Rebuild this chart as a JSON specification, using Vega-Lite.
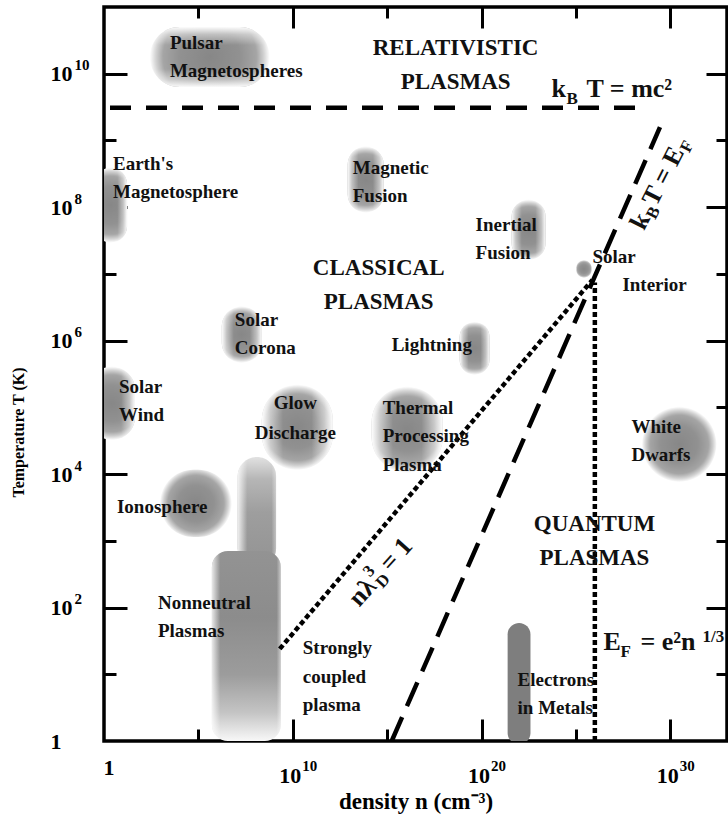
{
  "$schema": "https://vega.github.io/schema/vega-lite/v6.json",
  "width": 623,
  "height": 734,
  "autosize": {"type": "none"},
  "padding": {"left": 104, "top": 7, "right": 1, "bottom": 81},
  "background": "white",
  "config": {
    "view": {"stroke": "#000", "strokeWidth": 3.5},
    "font": "Liberation Serif"
  },
  "datasets": {
    "blobs": [
      {"name": "Pulsar Magnetospheres", "n1": 269, "n2": 6.0e8, "T1": 6.3e9, "T2": 5.0e10},
      {"name": "Earth's Magnetosphere", "n1": 0.32, "n2": 16.6, "T1": 2.95e7, "T2": 3.9e8},
      {"name": "Magnetic Fusion", "n1": 8.1e12, "n2": 6.5e14, "T1": 8.3e7, "T2": 8.1e8},
      {"name": "Inertial Fusion", "n1": 3.9e21, "n2": 2.45e23, "T1": 1.62e7, "T2": 1.29e8},
      {"name": "Solar Interior", "n1": 1.07e25, "n2": 6.6e25, "T1": 8.7e6, "T2": 1.62e7},
      {"name": "Solar Corona", "n1": 1.74e6, "n2": 2.29e8, "T1": 4.68e5, "T2": 3.24e6},
      {"name": "Lightning", "n1": 6.9e18, "n2": 2.63e20, "T1": 3.09e5, "T2": 1.91e6},
      {"name": "Solar Wind", "n1": 0.158, "n2": 43.7, "T1": 3.24e4, "T2": 4.07e5},
      {"name": "Glow Discharge", "n1": 2.29e8, "n2": 1.32e12, "T1": 1.15e4, "T2": 2.19e5},
      {"name": "Thermal Processing Plasma", "n1": 1.51e14, "n2": 8.7e17, "T1": 1.05e4, "T2": 2.04e5},
      {"name": "White Dwarfs", "n1": 3.3e28, "n2": 2.7e32, "T1": 7.6e3, "T2": 1.02e5},
      {"name": "Ionosphere", "n1": 912, "n2": 5.9e6, "T1": 1.14e3, "T2": 1.16e4}
    ],
    "nonneutralTop": [
      {"name": "Nonneutral Plasmas (upper)", "n1": 1.2e7, "n2": 1.3e9, "T1": 400, "T2": 1.81e4}
    ],
    "nonneutralBody": [
      {"name": "Nonneutral Plasmas", "n1": 5.2e5, "n2": 2.32e9, "T1": 1, "T2": 706}
    ],
    "metals": [
      {"name": "Electrons in Metals", "n1": 2.4e21, "n2": 3.89e22, "T1": 0.89, "T2": 58.9}
    ],
    "mc2": [
      {"n": 1, "T": 3.09e9},
      {"n": 6.31e28, "T": 3.09e9}
    ],
    "kTEF": [
      {"n": 1.74e15, "T": 1},
      {"n": 2.82e29, "T": 1.58e9}
    ],
    "dotted": [
      {"id": "nlambda", "n": 2.04e9, "T": 24.0},
      {"id": "nlambda", "n": 7.41e25, "T": 8.13e6},
      {"id": "EF", "n": 1e26, "T": 1},
      {"id": "EF", "n": 1e26, "T": 7.41e6}
    ],
    "labels": [
      {"label": "Pulsar\nMagnetospheres", "n": 3.1e3, "T": 2.37e10},
      {"label": "Earth's\nMagnetosphere", "n": 3.0, "T": 3.64e8},
      {"label": "Magnetic\nFusion", "n": 1.5e13, "T": 3.17e8},
      {"label": "Inertial\nFusion", "n": 4.82e19, "T": 4.43e7},
      {"label": "Solar", "n": 7.46e25, "T": 1.47e7},
      {"label": "Interior", "n": 2.88e27, "T": 5.58e6},
      {"label": "Solar\nCorona", "n": 8.53e6, "T": 1.67e6},
      {"label": "Lightning", "n": 1.73e15, "T": 7.03e5},
      {"label": "Solar\nWind", "n": 6.22, "T": 1.65e5},
      {"label": "Thermal\nProcessing\nPlasma", "n": 5.78e14, "T": 8.0e4},
      {"label": "White\nDwarfs", "n": 8.65e27, "T": 4.15e4},
      {"label": "Ionosphere", "n": 4.87, "T": 2.62e3},
      {"label": "Nonneutral\nPlasmas", "n": 719, "T": 95.3},
      {"label": "Strongly\ncoupled\nplasma", "n": 3.38e10, "T": 20.1},
      {"label": "Electrons\nin Metals", "n": 8.04e21, "T": 6.68}
    ],
    "centered": [
      {"label": "Glow\nDischarge", "n": 1.36e10, "T": 9.5e4}
    ],
    "regions": [
      {"label": "RELATIVISTIC\nPLASMAS", "n": 4.21e18, "T": 1.93e10},
      {"label": "CLASSICAL\nPLASMAS", "n": 3.55e14, "T": 9.7e6},
      {"label": "QUANTUM\nPLASMAS", "n": 9.53e25, "T": 1.41e3}
    ],
    "eqMain": [
      {"label": "k", "n": 5.06e23, "T": 4.52e9},
      {"label": "T = mc²", "n": 3.6e25, "T": 4.52e9},
      {"label": "E", "n": 2.85e26, "T": 23.1},
      {"label": "= e²n", "n": 2.59e28, "T": 23.1}
    ],
    "eqSmall": [
      {"label": "B", "n": 3.14e24, "T": 3.55e9},
      {"label": "F", "n": 2.26e27, "T": 18.2},
      {"label": "1/3", "n": 5.0e31, "T": 30.5}
    ],
    "rotA": [
      {"label": "k", "n": 4.06e28, "T": 4.34e7},
      {"label": "T = E", "n": 1.81e29, "T": 9.95e7}
    ],
    "rotASmall": [
      {"label": "B", "n": 1.6e29, "T": 6.36e7},
      {"label": "F", "n": 1.01e31, "T": 6.38e8}
    ],
    "rotB": [
      {"label": "nλ", "n": 3.34e13, "T": 99.6},
      {"label": "= 1", "n": 1.53e15, "T": 333}
    ],
    "rotBSmall": [
      {"label": "D", "n": 5.85e14, "T": 189},
      {"label": "3", "n": 1.24e14, "T": 280}
    ]
  },
  "resolve": {"axis": {"x": "independent", "y": "independent"}},
  "layer": [
    {
      "data": {"name": "blobs"},
      "mark": {
        "type": "rect", "clip": true, "cornerRadius": 999,
        "color": {"gradient": "radial", "x1": 0.5, "y1": 0.5, "x2": 0.5, "y2": 0.5, "r1": 0, "r2": 0.5,
          "stops": [
            {"offset": 0, "color": "#878787"},
            {"offset": 0.5, "color": "#919191"},
            {"offset": 0.78, "color": "#a5a5a5"},
            {"offset": 0.9, "color": "#d2d2d2"},
            {"offset": 1, "color": "#ffffff"}
          ]}
      },
      "encoding": {
        "x": {"field": "n1", "type": "quantitative", "scale": {"type": "log", "domain": [1, 1e33], "nice": false},
          "axis": {"orient": "bottom", "values": [1, 1e10, 1e20, 1e30], "labelExpr": "datum.value < 10 ? '1' : '10'",
            "ticks": false, "domain": false, "grid": false,
            "labelFont": "Liberation Serif", "labelFontWeight": "bold", "labelFontSize": 22, "labelColor": "#000",
            "labelAlign": "left", "labelBaseline": "top",
            "labelOffset": {"condition": {"test": "datum.value < 10", "value": -1}, "value": -14},
            "labelPadding": {"condition": {"test": "datum.value < 10", "value": 16}, "value": 24},
            "labelFlush": false, "labelOverlap": false, "labelBound": false,
            "title": "density n (cm⁻³)", "titleFont": "Liberation Serif", "titleFontWeight": "bold", "titleFontSize": 23,
            "titleColor": "#000", "titleX": 311.5, "titleY": 67, "titleAlign": "center", "titleBaseline": "alphabetic"}},
        "x2": {"field": "n2"},
        "y": {"field": "T1", "type": "quantitative", "scale": {"type": "log", "domain": [1, 1e11], "nice": false},
          "axis": {"orient": "left", "values": [1, 100, 1e4, 1e6, 1e8, 1e10], "labelExpr": "datum.value < 10 ? '1' : '10'",
            "ticks": false, "domain": false, "grid": false,
            "labelFont": "Liberation Serif", "labelFontWeight": "bold", "labelFontSize": 22, "labelColor": "#000",
            "labelAlign": "left", "labelBaseline": "middle", "labelPadding": 54,
            "labelFlush": false, "labelOverlap": false, "labelBound": false,
            "title": "Temperature T (K)", "titleFont": "Liberation Serif", "titleFontWeight": "bold", "titleFontSize": 16,
            "titleColor": "#000", "titleX": -81, "titleY": 425, "titleAngle": -90, "titleAlign": "center", "titleBaseline": "alphabetic"}},
        "y2": {"field": "T2"}
      }
    },
    {
      "data": {"name": "blobs"},
      "transform": [{"filter": {"field": "name", "oneOf": ["Earth's Magnetosphere", "Magnetic Fusion", "Inertial Fusion", "Solar Corona", "Lightning", "Solar Wind", "Glow Discharge", "Thermal Processing Plasma"]}}],
      "mark": {
        "type": "rect", "clip": true, "cornerRadius": 999,
        "color": {"gradient": "linear", "x1": 0, "y1": 0, "x2": 1, "y2": 0,
          "stops": [
            {"offset": 0, "color": "rgba(255,255,255,0.97)"},
            {"offset": 0.12, "color": "rgba(255,255,255,0.45)"},
            {"offset": 0.3, "color": "rgba(255,255,255,0)"},
            {"offset": 0.7, "color": "rgba(255,255,255,0)"},
            {"offset": 0.88, "color": "rgba(255,255,255,0.45)"},
            {"offset": 1, "color": "rgba(255,255,255,0.97)"}
          ]}
      },
      "encoding": {
        "x": {"field": "n1", "type": "quantitative", "scale": {"type": "log", "domain": [1, 1e33], "nice": false}, "axis": null},
        "x2": {"field": "n2"},
        "y": {"field": "T1", "type": "quantitative", "scale": {"type": "log", "domain": [1, 1e11], "nice": false}, "axis": null},
        "y2": {"field": "T2"}
      }
    },
    {
      "data": {"name": "blobs"},
      "transform": [{"filter": {"field": "name", "oneOf": ["Pulsar Magnetospheres"]}}],
      "mark": {
        "type": "rect", "clip": true, "cornerRadius": 999,
        "color": {"gradient": "linear", "x1": 0, "y1": 0, "x2": 0, "y2": 1,
          "stops": [
            {"offset": 0, "color": "rgba(255,255,255,0.97)"},
            {"offset": 0.12, "color": "rgba(255,255,255,0.45)"},
            {"offset": 0.3, "color": "rgba(255,255,255,0)"},
            {"offset": 0.7, "color": "rgba(255,255,255,0)"},
            {"offset": 0.88, "color": "rgba(255,255,255,0.45)"},
            {"offset": 1, "color": "rgba(255,255,255,0.97)"}
          ]}
      },
      "encoding": {
        "x": {"field": "n1", "type": "quantitative", "scale": {"type": "log", "domain": [1, 1e33], "nice": false}, "axis": null},
        "x2": {"field": "n2"},
        "y": {"field": "T1", "type": "quantitative", "scale": {"type": "log", "domain": [1, 1e11], "nice": false}, "axis": null},
        "y2": {"field": "T2"}
      }
    },
    {
      "data": {"name": "nonneutralTop"},
      "mark": {
        "type": "rect", "clip": true, "cornerRadius": 999,
        "color": {"gradient": "linear", "x1": 0, "y1": 0, "x2": 0, "y2": 1,
          "stops": [
            {"offset": 0, "color": "#e2e2e2"},
            {"offset": 0.2, "color": "#b6b6b6"},
            {"offset": 0.5, "color": "#9e9e9e"},
            {"offset": 1, "color": "#939393"}
          ]}
      },
      "encoding": {
        "x": {"field": "n1", "type": "quantitative", "scale": {"type": "log", "domain": [1, 1e33], "nice": false},
          "axis": {"orient": "bottom", "values": [1e10, 1e20, 1e30],
            "labelExpr": "datum.value < 1e15 ? '10' : (datum.value < 1e25 ? '20' : '30')",
            "ticks": false, "domain": false, "grid": false,
            "labelFont": "Liberation Serif", "labelFontWeight": "bold", "labelFontSize": 15, "labelColor": "#000",
            "labelAlign": "left", "labelBaseline": "top", "labelOffset": 9, "labelPadding": 17,
            "labelFlush": false, "labelOverlap": false, "labelBound": false, "title": null}},
        "x2": {"field": "n2"},
        "y": {"field": "T1", "type": "quantitative", "scale": {"type": "log", "domain": [1, 1e11], "nice": false},
          "axis": {"orient": "left", "values": [100, 1e4, 1e6, 1e8, 1e10],
            "labelExpr": "'' + round(log(datum.value) / LN10)",
            "ticks": false, "domain": false, "grid": false,
            "labelFont": "Liberation Serif", "labelFontWeight": "bold", "labelFontSize": 15, "labelColor": "#000",
            "labelAlign": "left", "labelBaseline": "middle", "labelPadding": 30, "labelOffset": -9,
            "labelFlush": false, "labelOverlap": false, "labelBound": false, "title": null}},
        "y2": {"field": "T2"}
      }
    },
    {
      "data": {"name": "nonneutralTop"},
      "mark": {
        "type": "rect", "clip": true, "cornerRadius": 999,
        "color": {"gradient": "linear", "x1": 0, "y1": 0, "x2": 1, "y2": 0,
          "stops": [
            {"offset": 0, "color": "rgba(255,255,255,0.85)"},
            {"offset": 0.25, "color": "rgba(255,255,255,0)"},
            {"offset": 0.88, "color": "rgba(255,255,255,0)"},
            {"offset": 1, "color": "rgba(255,255,255,0.4)"}
          ]}
      },
      "encoding": {
        "x": {"field": "n1", "type": "quantitative", "scale": {"type": "log", "domain": [1, 1e33], "nice": false}, "axis": null},
        "x2": {"field": "n2"},
        "y": {"field": "T1", "type": "quantitative", "scale": {"type": "log", "domain": [1, 1e11], "nice": false}, "axis": null},
        "y2": {"field": "T2"}
      }
    },
    {
      "data": {"name": "nonneutralBody"},
      "mark": {
        "type": "rect", "clip": true, "cornerRadius": 16,
        "color": {"gradient": "linear", "x1": 0, "y1": 0, "x2": 0, "y2": 1,
          "stops": [
            {"offset": 0, "color": "#939393"},
            {"offset": 0.35, "color": "#8c8c8c"},
            {"offset": 0.65, "color": "#9c9c9c"},
            {"offset": 0.85, "color": "#c4c4c4"},
            {"offset": 1, "color": "#f8f8f8"}
          ]}
      },
      "encoding": {
        "x": {"field": "n1", "type": "quantitative", "scale": {"type": "log", "domain": [1, 1e33], "nice": false}, "axis": null},
        "x2": {"field": "n2"},
        "y": {"field": "T1", "type": "quantitative", "scale": {"type": "log", "domain": [1, 1e11], "nice": false}, "axis": null},
        "y2": {"field": "T2"}
      }
    },
    {
      "data": {"name": "nonneutralBody"},
      "mark": {
        "type": "rect", "clip": true, "cornerRadius": 16,
        "color": {"gradient": "linear", "x1": 0, "y1": 0, "x2": 1, "y2": 0,
          "stops": [
            {"offset": 0, "color": "rgba(255,255,255,0.8)"},
            {"offset": 0.12, "color": "rgba(255,255,255,0)"},
            {"offset": 0.94, "color": "rgba(255,255,255,0)"},
            {"offset": 1, "color": "rgba(255,255,255,0.5)"}
          ]}
      },
      "encoding": {
        "x": {"field": "n1", "type": "quantitative", "scale": {"type": "log", "domain": [1, 1e33], "nice": false}, "axis": null},
        "x2": {"field": "n2"},
        "y": {"field": "T1", "type": "quantitative", "scale": {"type": "log", "domain": [1, 1e11], "nice": false}, "axis": null},
        "y2": {"field": "T2"}
      }
    },
    {
      "data": {"name": "metals"},
      "mark": {"type": "rect", "clip": true, "cornerRadius": 999, "color": "#7e7e7e"},
      "encoding": {
        "x": {"field": "n1", "type": "quantitative", "scale": {"type": "log", "domain": [1, 1e33], "nice": false},
          "axis": {"orient": "bottom", "values": [1e5, 1e10, 1e15, 1e20, 1e25, 1e30],
            "labels": false, "domain": false, "grid": false, "ticks": true, "tickColor": "#000", "tickWidth": 3,
            "tickSize": {"condition": {"test": "round(log(datum.value) / LN10) % 10 == 0", "value": -22}, "value": -12},
            "title": null}},
        "x2": {"field": "n2"},
        "y": {"field": "T1", "type": "quantitative", "scale": {"type": "log", "domain": [1, 1e11], "nice": false},
          "axis": {"orient": "left", "values": [10, 100, 1e3, 1e4, 1e5, 1e6, 1e7, 1e8, 1e9, 1e10],
            "labels": false, "domain": false, "grid": false, "ticks": true, "tickColor": "#000", "tickWidth": 3,
            "tickSize": {"condition": {"test": "round(log(datum.value) / LN10) % 2 == 0", "value": -23}, "value": -12},
            "title": null}},
        "y2": {"field": "T2"}
      }
    },
    {
      "data": {"name": "mc2"},
      "mark": {"type": "line", "color": "#000", "strokeWidth": 4.5, "strokeDash": [21, 15], "strokeCap": "butt", "strokeDashOffset": -6},
      "encoding": {
        "x": {"field": "n", "type": "quantitative", "scale": {"type": "log", "domain": [1, 1e33], "nice": false},
          "axis": {"orient": "top", "values": [1e5, 1e10, 1e15, 1e20, 1e25, 1e30],
            "labels": false, "domain": false, "grid": false, "ticks": true, "tickColor": "#000", "tickWidth": 3,
            "tickSize": {"condition": {"test": "round(log(datum.value) / LN10) % 10 == 0", "value": -21}, "value": -11},
            "title": null}},
        "y": {"field": "T", "type": "quantitative", "scale": {"type": "log", "domain": [1, 1e11], "nice": false},
          "axis": {"orient": "right", "values": [10, 100, 1e3, 1e4, 1e5, 1e6, 1e7, 1e8, 1e9, 1e10],
            "labels": false, "domain": false, "grid": false, "ticks": true, "tickColor": "#000", "tickWidth": 3,
            "tickSize": {"condition": {"test": "round(log(datum.value) / LN10) % 2 == 0", "value": -21}, "value": -11},
            "title": null}}
      }
    },
    {
      "data": {"name": "kTEF"},
      "mark": {"type": "line", "color": "#000", "strokeWidth": 4.5, "strokeDash": [26, 12], "strokeCap": "butt"},
      "encoding": {
        "x": {"field": "n", "type": "quantitative", "scale": {"type": "log", "domain": [1, 1e33], "nice": false}, "axis": null},
        "y": {"field": "T", "type": "quantitative", "scale": {"type": "log", "domain": [1, 1e11], "nice": false}, "axis": null}
      }
    },
    {
      "data": {"name": "dotted"},
      "mark": {"type": "line", "color": "#000", "strokeWidth": 4.5, "strokeDash": [5, 3], "strokeCap": "butt"},
      "encoding": {
        "x": {"field": "n", "type": "quantitative", "scale": {"type": "log", "domain": [1, 1e33], "nice": false}, "axis": null},
        "y": {"field": "T", "type": "quantitative", "scale": {"type": "log", "domain": [1, 1e11], "nice": false}, "axis": null},
        "detail": {"field": "id"}
      }
    },
    {
      "data": {"name": "labels"},
      "mark": {"type": "text", "font": "Liberation Serif", "fontWeight": "bold", "fontSize": 19, "align": "left", "baseline": "alphabetic", "lineBreak": "\n", "lineHeight": 28.5, "color": "#111"},
      "encoding": {
        "x": {"field": "n", "type": "quantitative", "scale": {"type": "log", "domain": [1, 1e33], "nice": false}, "axis": null},
        "y": {"field": "T", "type": "quantitative", "scale": {"type": "log", "domain": [1, 1e11], "nice": false}, "axis": null},
        "text": {"field": "label"}
      }
    },
    {
      "data": {"name": "centered"},
      "mark": {"type": "text", "font": "Liberation Serif", "fontWeight": "bold", "fontSize": 19, "align": "center", "baseline": "alphabetic", "lineBreak": "\n", "lineHeight": 30, "color": "#111"},
      "encoding": {
        "x": {"field": "n", "type": "quantitative", "scale": {"type": "log", "domain": [1, 1e33], "nice": false}, "axis": null},
        "y": {"field": "T", "type": "quantitative", "scale": {"type": "log", "domain": [1, 1e11], "nice": false}, "axis": null},
        "text": {"field": "label"}
      }
    },
    {
      "data": {"name": "regions"},
      "mark": {"type": "text", "font": "Liberation Serif", "fontWeight": "bold", "fontSize": 23, "align": "center", "baseline": "alphabetic", "lineBreak": "\n", "lineHeight": 34, "color": "#111"},
      "encoding": {
        "x": {"field": "n", "type": "quantitative", "scale": {"type": "log", "domain": [1, 1e33], "nice": false}, "axis": null},
        "y": {"field": "T", "type": "quantitative", "scale": {"type": "log", "domain": [1, 1e11], "nice": false}, "axis": null},
        "text": {"field": "label"}
      }
    },
    {
      "data": {"name": "eqMain"},
      "mark": {"type": "text", "font": "Liberation Serif", "fontWeight": "bold", "fontSize": 26, "align": "left", "baseline": "alphabetic", "color": "#111"},
      "encoding": {
        "x": {"field": "n", "type": "quantitative", "scale": {"type": "log", "domain": [1, 1e33], "nice": false}, "axis": null},
        "y": {"field": "T", "type": "quantitative", "scale": {"type": "log", "domain": [1, 1e11], "nice": false}, "axis": null},
        "text": {"field": "label"}
      }
    },
    {
      "data": {"name": "eqSmall"},
      "mark": {"type": "text", "font": "Liberation Serif", "fontWeight": "bold", "fontSize": 17, "align": "left", "baseline": "alphabetic", "color": "#111"},
      "encoding": {
        "x": {"field": "n", "type": "quantitative", "scale": {"type": "log", "domain": [1, 1e33], "nice": false}, "axis": null},
        "y": {"field": "T", "type": "quantitative", "scale": {"type": "log", "domain": [1, 1e11], "nice": false}, "axis": null},
        "text": {"field": "label"}
      }
    },
    {
      "data": {"name": "rotA"},
      "mark": {"type": "text", "font": "Liberation Serif", "fontWeight": "bold", "fontSize": 26, "align": "left", "baseline": "alphabetic", "angle": -63, "color": "#111"},
      "encoding": {
        "x": {"field": "n", "type": "quantitative", "scale": {"type": "log", "domain": [1, 1e33], "nice": false}, "axis": null},
        "y": {"field": "T", "type": "quantitative", "scale": {"type": "log", "domain": [1, 1e11], "nice": false}, "axis": null},
        "text": {"field": "label"}
      }
    },
    {
      "data": {"name": "rotASmall"},
      "mark": {"type": "text", "font": "Liberation Serif", "fontWeight": "bold", "fontSize": 17, "align": "left", "baseline": "alphabetic", "angle": -63, "color": "#111"},
      "encoding": {
        "x": {"field": "n", "type": "quantitative", "scale": {"type": "log", "domain": [1, 1e33], "nice": false}, "axis": null},
        "y": {"field": "T", "type": "quantitative", "scale": {"type": "log", "domain": [1, 1e11], "nice": false}, "axis": null},
        "text": {"field": "label"}
      }
    },
    {
      "data": {"name": "rotB"},
      "mark": {"type": "text", "font": "Liberation Serif", "fontWeight": "bold", "fontSize": 26, "align": "left", "baseline": "alphabetic", "angle": -48, "color": "#111"},
      "encoding": {
        "x": {"field": "n", "type": "quantitative", "scale": {"type": "log", "domain": [1, 1e33], "nice": false}, "axis": null},
        "y": {"field": "T", "type": "quantitative", "scale": {"type": "log", "domain": [1, 1e11], "nice": false}, "axis": null},
        "text": {"field": "label"}
      }
    },
    {
      "data": {"name": "rotBSmall"},
      "mark": {"type": "text", "font": "Liberation Serif", "fontWeight": "bold", "fontSize": 17, "align": "left", "baseline": "alphabetic", "angle": -48, "color": "#111"},
      "encoding": {
        "x": {"field": "n", "type": "quantitative", "scale": {"type": "log", "domain": [1, 1e33], "nice": false}, "axis": null},
        "y": {"field": "T", "type": "quantitative", "scale": {"type": "log", "domain": [1, 1e11], "nice": false}, "axis": null},
        "text": {"field": "label"}
      }
    }
  ]
}
